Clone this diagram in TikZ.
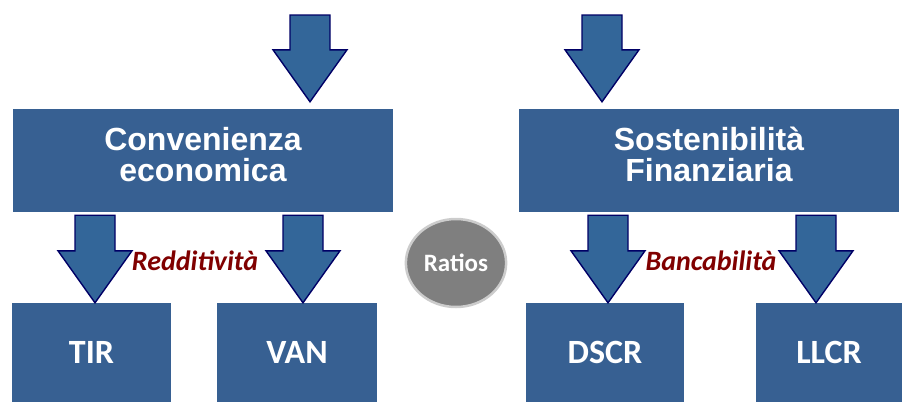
\documentclass[tikz,border=0pt]{standalone}
\usepackage{fontspec}
\usepackage{tikz}
\usepackage{xcolor}
\usetikzlibrary{calc, shapes.geometric, positioning}

\newfontfamily\arialfont{Liberation Sans}
\newfontfamily\calibrifont{Carlito}

\definecolor{boxblue}{RGB}{55,96,146}
\definecolor{arrowblue}{RGB}{51,102,153}
\definecolor{arrowline}{RGB}{0,0,102}
\definecolor{tagred}{RGB}{128,0,0}
\definecolor{ratiogray}{RGB}{127,127,127}

\tikzset{
    bigbox/.style={rectangle, fill=boxblue, minimum width=380pt, minimum height=103pt, text=white, align=center, text depth=12pt, font=\arialfont\bfseries\fontsize{32}{31}\selectfont},
    smallbox/.style={rectangle, fill=boxblue, minimum height=99pt, text=white, font=\calibrifont\bfseries\fontsize{34}{36}\selectfont},
    bigarrow/.style={fill=arrowblue, draw=arrowline, line width=1.4pt, line join=miter},
    tag/.style={text=tagred, font=\calibrifont\bfseries\itshape\fontsize{28}{30}\selectfont},
}

% block arrow: tail point, tip point, x position, gap above the tip
\newcommand{\blockarrow}[4]{%
    \draw[bigarrow] let \p1=(#1), \p2=(#2) in
        ({#3pt-20pt},{\y1-3pt}) -- ({#3pt+20pt},{\y1-3pt}) -- ({#3pt+20pt},{\y2+#4pt+52pt})
        -- ({#3pt+37pt},{\y2+#4pt+52pt}) -- (#3pt,{\y2+#4pt}) -- ({#3pt-37pt},{\y2+#4pt+52pt})
        -- ({#3pt-20pt},{\y2+#4pt+52pt}) -- cycle;}

\begin{document}
\begin{tikzpicture}[x=1pt, y=-1pt]
                            \useasboundingbox (0, 0) rectangle (902, 402);
                            \node[bigbox] (conv) at (203, 160.5) {Convenienza\\economica};
                            \node[bigbox] (sost) at (709, 160.5) {Sostenibilità\\Finanziaria};
                            \node[smallbox, minimum width=159pt] (tir) at (91.5, 352.5) {TIR};
                            \node[smallbox, minimum width=160pt] (van) at (297, 352.5) {VAN};
                            \node[smallbox, minimum width=158pt] (dscr) at (605, 352.5) {DSCR};
                            \node[smallbox, minimum width=146pt] (llcr) at (829, 352.5) {LLCR};
                            \node[ellipse, fill=ratiogray, draw=gray!40, line width=2.5pt, minimum width=100pt, minimum height=88pt, text=white, font=\calibrifont\bfseries\fontsize{25}{27}\selectfont] (ratios) at (456, 263) {Ratios};
                            \node[tag] (redd) at (195, 261) {Redditività};
                            \node[tag] (banc) at (711, 261) {Bancabilità};
                            % free ends of the incoming arrows
                            \coordinate (inconv) at (310, 12);
                            \coordinate (insost) at (602, 12);
                            \blockarrow{inconv}{conv.north}{310}{7}
                            \blockarrow{insost}{sost.north}{602}{7}
                            \blockarrow{conv.south}{tir.north}{95}{0}
                            \blockarrow{conv.south}{van.north}{303}{0}
                            \blockarrow{sost.south}{dscr.north}{608}{0}
                            \blockarrow{sost.south}{llcr.north}{816}{0}
                        \end{tikzpicture}
\end{document}
